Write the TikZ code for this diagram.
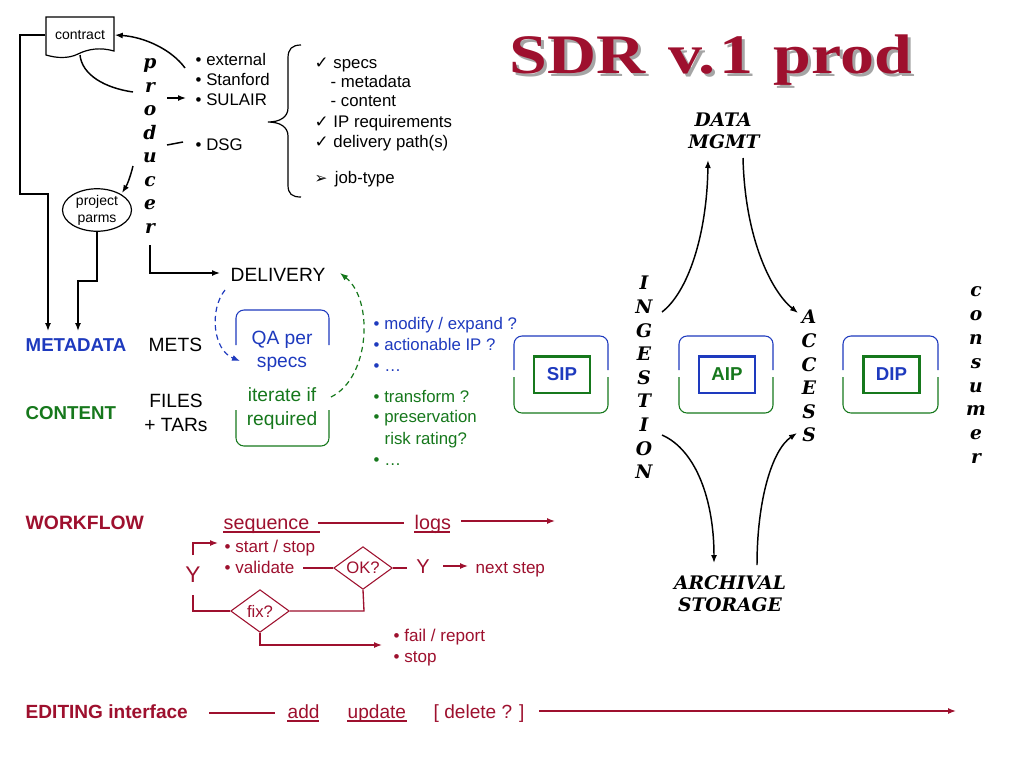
\documentclass[tikz,border=0pt]{standalone}
\usepackage{fontspec}
\setmainfont{Liberation Sans}
\newfontfamily\titlefont{Liberation Serif}
\newfontfamily\bookfont{DejaVu Serif}
\newfontfamily\symfont{DejaVu Sans}
\usetikzlibrary{shapes.geometric,arrows.meta}
\definecolor{dred}{RGB}{158,16,46}
\definecolor{dblue}{RGB}{30,58,190}
\definecolor{dgreen}{RGB}{22,120,28}
\definecolor{shadowgray}{RGB}{165,165,165}
\newcommand\drawpkg[6]{%
  \draw[dblue, outl] (#1,370) -- (#1,336) -- (#2,336) -- (#2,370);
  \draw[dgreen, outl] (#1,377) -- (#1,413) -- (#2,413) -- (#2,377);
  \node[draw=#5, line width=2pt, minimum width=42pt, minimum height=27.5pt, inner sep=0,
        text=#6, font=\bfseries\fontsize{14}{16}\selectfont] (#3) at ({(#1+#2)/2+1},374.5) {#4};
}
\newcommand\titletext{\scalebox{1}[0.82]{SDR\hspace{0.33em}v.\hspace{0.06em}1\hspace{0.3em}prod}}
\begin{document}
\begin{tikzpicture}[x=0.75pt,y=-0.75pt,
  >={Latex[length=6pt,width=4.5pt]}, line width=1.1pt,
  txt/.style={font=\fontsize{12.6}{15}\selectfont, inner sep=0, anchor=base west},
  bigtxt/.style={font=\fontsize{14.4}{17}\selectfont, inner sep=0},
  lowlet/.style={font=\bookfont\bfseries\itshape\fontsize{14}{17}\selectfont, inner sep=0, text height=7.3pt, text depth=0pt, anchor=center},
  caplet/.style={font=\bookfont\bfseries\itshape\fontsize{14}{17}\selectfont, inner sep=0, text height=10.2pt, text depth=0pt, anchor=center},
  outl/.style={line width=0.8pt, rounded corners=6pt},
  wf/.style={text=dred, inner sep=0, anchor=base west, font=\fontsize{12.8}{15}\selectfont},
  wfline/.style={draw=dred, line width=1pt},
  dia/.style={diamond, draw=dred, line width=0.8pt, text=dred, inner sep=0, aspect=1.37,
              minimum width=44pt, minimum height=32pt, font=\fontsize{12.5}{15}\selectfont},
  dsh/.style={line width=0.9pt, dash pattern=on 4pt off 3pt},
  ttl/.style={font=\titlefont\bfseries\fontsize{51}{60}\selectfont, anchor=base west, inner sep=0}
]
\useasboundingbox[fill=white] (0,0) rectangle (1024,768);

% ---------- title
\node[ttl, text=shadowgray] (titleshadow) at (512,76) {\titletext};
\node[ttl, text=dred] (title) at (509,73) {\titletext};

% ---------- producer side
\node[inner sep=0, minimum width=51pt, minimum height=28.5pt, font=\fontsize{10.5}{12}\selectfont] (contract) at (80,35) {contract};
\draw[line width=0.9pt] (46,17) -- (114,17) -- (114,51) .. controls (100,47) and (88,49) .. (78,54) .. controls (68,59) and (56,58) .. (46,55) -- cycle;

\foreach \l [count=\i] in {p,r,o,d,u,c,e,r}
  \node[lowlet] (prod\i) at (150,{64+23.5*(\i-1)}) {\l};

\node[txt] (ext) at (195,65) {• external};
\node[txt] (stan) at (195,85) {• Stanford};
\node[txt] (sul) at (195,105) {• SULAIR};
\node[txt] (dsg) at (195,150) {• DSG};

\draw[->] (185,68) .. controls (172,50) and (145,37) .. (contract.east);
\draw (80,55) .. controls (82,75) and (105,88) .. (133,92);
\draw[->] (167,98) -- (186,98);
\draw (167,145) -- (183,142);
\draw[->] (133,166) .. controls (130,178) and (127,185) .. (122,193);

\node[ellipse, draw, line width=0.9pt, minimum width=51.75pt, minimum height=27.75pt, inner sep=0,
      align=center, font=\fontsize{10.5}{12.75}\selectfont] (parms) at (97,210) {project\\parms};

\node[anchor=base west, inner sep=0, font=\bfseries\fontsize{14}{17}\selectfont, text=dblue] (meta) at (25,351) {METADATA};
\node[anchor=base west, inner sep=0, font=\bfseries\fontsize{14}{17}\selectfont, text=dgreen] (content) at (25,419) {CONTENT};
\node[bigtxt, anchor=base west] (mets) at (148,351) {METS};
\node[bigtxt, anchor=base] (files) at (176,407) {FILES};
\node[bigtxt, anchor=base] (tars) at (176,431) {+ TARs};

\draw[->] (contract.west) -- (20,35) -- (20,194) -- (48,194) -- (48,331);
\draw[->] (parms.south) -- (97,281) -- (78,281) -- (78,331);

\node[bigtxt, anchor=base west] (deliv) at (230,281) {DELIVERY};
\draw[->] (150,245) -- (150,273) -- (220,273);

% brace
\draw[line width=0.9pt] (301,45) .. controls (292,45) and (288,49) .. (288,58) -- (288,108)
   .. controls (288,117) and (280,122) .. (268,122)
   .. controls (280,122) and (288,127) .. (288,136) -- (288,185)
   .. controls (288,194) and (292,197) .. (301,197);

\node[txt] (specs) at (314,68) {{\symfont ✓} specs};
\node[txt] (mdata) at (330,87) {- metadata};
\node[txt] (cont) at (330,106) {- content};
\node[txt] (ipreq) at (314,127) {{\symfont ✓} IP requirements};
\node[txt] (dpath) at (314,147) {{\symfont ✓} delivery path(s)};
\node[txt] (jobt) at (314,183) {{\symfont\fontsize{11.5}{12}\selectfont ➢}\hspace{2pt} job-type};

% ---------- QA box
\draw[dblue, outl] (236,345) -- (236,310) -- (329,310) -- (329,345);
\draw[dgreen, outl] (236,410) -- (236,446) -- (329,446) -- (329,410);
\node[bigtxt, anchor=base, text=dblue] (qa) at (282,344.5) {QA per};
\node[bigtxt, anchor=base, text=dblue] (qaspecs) at (282,367.5) {specs};
\node[bigtxt, anchor=base, text=dgreen] (iter) at (282,401) {iterate if};
\node[bigtxt, anchor=base, text=dgreen] (req) at (282,425.6) {required};

\draw[dblue, dsh, ->] (225,290) .. controls (209,310) and (213,350) .. (240,361);
\draw[dgreen, dsh, ->] (331,397) .. controls (370,378) and (374,300) .. (340,273);

\node[txt, text=dblue] (mod) at (373,329) {• modify / expand ?};
\node[txt, text=dblue] (act) at (373,350.6) {• actionable IP ?};
\node[txt, text=dblue] (dots1) at (373,371.6) {• …};
\node[txt, text=dgreen] (trans) at (373,402) {• transform ?};
\node[txt, text=dgreen] (pres) at (373,422) {• preservation};
\node[txt, text=dgreen] (risk) at (384,444) {risk rating?};
\node[txt, text=dgreen] (dots2) at (373,465) {• …};

% ---------- packages
\drawpkg{514}{608}{sip}{SIP}{dgreen}{dblue}
\drawpkg{679}{773}{aip}{AIP}{dblue}{dgreen}
\drawpkg{843}{938}{dip}{DIP}{dgreen}{dblue}

\foreach \l [count=\i] in {I,N,G,E,S,T,I,O,N}
  \node[caplet] (ing\i) at (644,{283+23.6*(\i-1)}) {\l};
\foreach \l [count=\i] in {A,C,C,E,S,S}
  \node[caplet] (acc\i) at (809,{317+23.6*(\i-1)}) {\l};
\foreach \l [count=\i] in {c,o,n,s,u,m,e,r}
  \node[lowlet] (cons\i) at (976,{292+23.8*(\i-1)}) {\l};

\node[caplet] (data) at (723,120) {DATA};
\node[caplet] (mgmt) at (724,142) {MGMT};
\node[caplet] (arch) at (730,583) {ARCHIVAL};
\node[caplet] (stor) at (730,605) {STORAGE};

\draw[->] (662,312) .. controls (688,292) and (707,235) .. (708,160);
\draw[->] (743,158) .. controls (745,240) and (772,292) .. (798,313);
\draw[->] (662,435) .. controls (696,450) and (714,500) .. (714,563);
\draw[->] (757,565) .. controls (757,500) and (772,450) .. (797,433);

% ---------- workflow
\node[anchor=base west, inner sep=0, font=\bfseries\fontsize{14.5}{17}\selectfont, text=dred] (wfl) at (25,529) {WORKFLOW};
\node[wf, font=\fontsize{14.8}{17}\selectfont] (seq) at (223,529) {sequence};
\draw[wfline, line width=0.8pt] (223,532) -- (320,532);
\draw[wfline] (318,523) -- (404,523);
\node[wf, font=\fontsize{14.8}{17}\selectfont] (logs) at (414,529) {logs};
\draw[wfline, line width=0.8pt] (414,532) -- (450,532);
\draw[wfline, ->] (461,521) -- (555,521);

\node[wf] (sst) at (224,552) {• start / stop};
\node[wf] (val) at (224,573) {• validate};
\node[dia] (ok) at (363,568) {OK?};
\node[dia] (fix) at (260,611) {fix?};
\draw[wfline] (303,568) -- (ok.west);
\draw[wfline] (ok.east) -- (407,568);
\node[text=dred, inner sep=0, font=\fontsize{15}{17}\selectfont] (y2) at (423,567) {Y};
\draw[wfline, ->] (443,566) -- (468,566);
\node[wf] (next) at (475,573) {next step};
\draw[wfline] (ok.south) -- (364,611) -- (fix.east);
\draw[wfline] (fix.west) -- (193,611) -- (193,595);
\node[text=dred, inner sep=0, font=\fontsize{17}{19}\selectfont] (y1) at (193,575) {Y};
\draw[wfline, ->] (193,555) -- (193,543) -- (218,543);
\draw[wfline, ->] (fix.south) -- (260,645) -- (382,645);
\node[wf] (fail) at (393,641) {• fail / report};
\node[wf] (stp) at (393,662) {• stop};

% ---------- editing
\node[anchor=base west, inner sep=0, font=\bfseries\fontsize{14.3}{17}\selectfont, text=dred] (edit) at (25,718) {EDITING interface};
\draw[wfline] (209,713) -- (275,713);
\node[wf, font=\fontsize{14.3}{17}\selectfont] (add) at (287,718) {add};
\draw[wfline, line width=0.8pt] (287,721) -- (319,721);
\node[wf, font=\fontsize{14.3}{17}\selectfont] (upd) at (347,718) {update};
\draw[wfline, line width=0.8pt] (347,721) -- (407,721);
\node[wf, font=\fontsize{14.3}{17}\selectfont] (del) at (433,718) {[ delete ? ]};
\draw[wfline, ->] (539,711) -- (956,711);
\end{tikzpicture}
\end{document}
